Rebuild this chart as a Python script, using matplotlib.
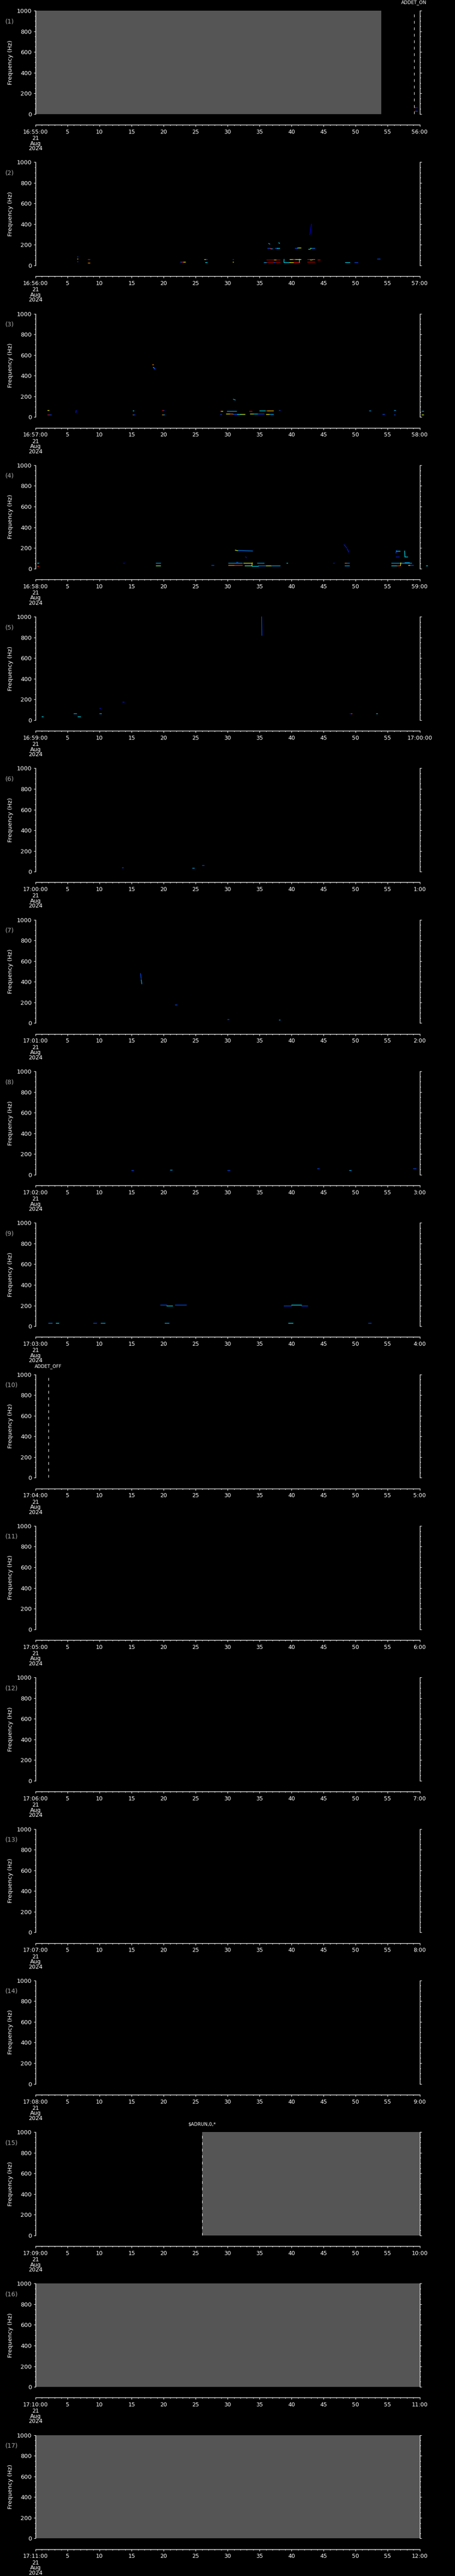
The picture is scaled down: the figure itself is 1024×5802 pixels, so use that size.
import matplotlib
matplotlib.use("Agg")
import matplotlib.pyplot as plt
from matplotlib.ticker import MultipleLocator, FixedLocator

W, H = 1024, 5802
DPI = 100
N_PANELS = 17
PANEL_H = H / N_PANELS

start_labels = ["16:55:00", "16:56:00", "16:57:00", "16:58:00", "16:59:00",
                "17:00:00", "17:01:00", "17:02:00", "17:03:00", "17:04:00",
                "17:05:00", "17:06:00", "17:07:00", "17:08:00", "17:09:00",
                "17:10:00", "17:11:00"]
end_labels = ["56:00", "57:00", "58:00", "59:00", "17:00:00", "1:00", "2:00",
              "3:00", "4:00", "5:00", "6:00", "7:00", "8:00", "9:00", "10:00",
              "11:00", "12:00"]
sec_labels = ["5", "10", "15", "20", "25", "30", "35", "40", "45", "50", "55"]
date_lines = ["21", "Aug", "2024"]

# no-data (grey) intervals, seconds into the minute
gray_panels = [1, 15, 16, 17]
gray_start = [0.0, 26.0, 0.0, 0.0]
gray_end = [54.0, 60.0, 60.0, 60.0]

# event markers
event_panels = [1, 10, 15]
event_times = [59.1, 2.0, 26.0]
event_labels = ["ADDET_ON", "ADDET_OFF", "$ADRUN,0,*"]

# spectrogram traces: (t_start, t_end, f_start, f_end, level 0..1)
p1_traces = [(59.2, 59.4, 62, 62, 0.9), (59.4, 59.6, 62, 62, 0.15),
             (59.2, 59.4, 29, 29, 0.9), (59.4, 59.6, 29, 29, 0.2)]

p2_traces = [(6.5, 6.6, 87, 87, 0.2), (6.5, 6.6, 66, 66, 0.7), (6.5, 6.6, 40, 40, 0.2),
             (8.2, 8.35, 60, 60, 0.9), (8.35, 8.5, 60, 60, 0.2), (8.2, 8.5, 27, 27, 0.75),
             (22.6, 22.9, 33, 33, 0.2), (22.9, 23.1, 33, 33, 0.9), (23.1, 23.4, 33, 33, 0.65),
             (26.4, 26.6, 60, 60, 0.65), (26.6, 26.8, 60, 60, 0.2), (26.5, 26.8, 31, 31, 0.35),
             (30.8, 30.9, 60, 60, 0.2), (30.8, 30.9, 36, 36, 0.65),
             (35.7, 36.1, 31, 31, 0.3), (36.1, 37.2, 31, 31, 0.95), (37.2, 37.4, 31, 31, 0.2),
             (37.4, 38.2, 31, 31, 0.95),
             (36.1, 37.3, 57, 57, 0.95), (37.3, 37.6, 54, 54, 0.7), (37.6, 38.2, 57, 57, 0.95),
             (36.2, 36.5, 169, 169, 0.2), (36.5, 36.7, 169, 169, 0.9), (36.7, 37.0, 163, 163, 0.3),
             (37.4, 37.7, 169, 169, 0.2), (37.7, 38.1, 169, 169, 0.35),
             (36.4, 36.6, 213, 207, 0.3), (38.0, 38.1, 220, 214, 0.35),
             (38.8, 38.82, 31, 60, 0.35), (38.8, 39.7, 31, 31, 0.35),
             (39.7, 40.3, 31, 31, 0.65), (40.3, 41.2, 31, 31, 0.9), (41.2, 41.22, 31, 60, 0.35),
             (39.7, 40.2, 60, 60, 0.65), (40.2, 40.6, 58, 58, 0.85), (40.6, 41.4, 60, 60, 0.65),
             (40.5, 40.9, 167, 167, 0.2), (40.9, 41.1, 170, 170, 0.35), (41.1, 41.4, 172, 172, 0.65),
             (42.5, 43.6, 33, 33, 0.95), (42.5, 42.9, 62, 62, 0.9), (42.9, 43.2, 57, 57, 0.7),
             (43.2, 43.6, 60, 60, 0.8),
             (42.6, 42.9, 160, 160, 0.35), (42.9, 43.1, 167, 167, 0.5), (43.1, 43.6, 167, 167, 0.25),
             (42.85, 43.1, 300, 400, 0.1),
             (44.1, 44.4, 57, 57, 0.9),
             (48.4, 49.1, 31, 31, 0.35), (49.8, 50.3, 31, 31, 0.2), (53.4, 53.8, 66, 66, 0.2)]

p3_traces = [(1.9, 2.05, 67, 67, 0.65), (1.9, 2.1, 24, 24, 0.9), (2.1, 2.4, 24, 24, 0.2),
             (6.3, 6.35, 42, 63, 0.15),
             (15.2, 15.35, 63, 63, 0.35), (15.2, 15.3, 24, 24, 0.75), (15.3, 15.45, 24, 24, 0.2),
             (18.25, 18.4, 507, 507, 0.75), (18.4, 18.6, 480, 470, 0.35), (18.55, 18.65, 470, 460, 0.15),
             (19.8, 19.95, 67, 67, 0.9), (19.95, 20.05, 67, 67, 0.2),
             (19.8, 19.9, 24, 24, 0.75), (19.9, 20.1, 24, 24, 0.3),
             (28.9, 29.0, 57, 57, 0.9), (29.0, 29.2, 57, 57, 0.6), (28.9, 29.0, 29, 29, 0.2),
             (29.9, 31.4, 57, 57, 0.3),
             (29.8, 30.3, 33, 33, 0.65), (30.3, 30.8, 33, 33, 0.8),
             (30.8, 31.5, 29, 29, 0.2), (31.5, 32.0, 29, 29, 0.35), (32.0, 32.7, 29, 29, 0.6),
             (30.9, 31.2, 172, 165, 0.3),
             (33.4, 33.8, 57, 57, 0.9),
             (33.5, 34.0, 31, 31, 0.6), (34.0, 34.7, 31, 31, 0.35), (34.7, 35.7, 31, 31, 0.2),
             (35.0, 35.9, 60, 60, 0.35),
             (36.1, 36.4, 63, 63, 0.75), (36.4, 37.1, 60, 60, 0.7),
             (36.0, 36.5, 29, 29, 0.65), (36.5, 37.1, 29, 29, 0.3),
             (38.0, 38.15, 66, 66, 0.2), (52.1, 52.3, 63, 63, 0.3), (54.2, 54.5, 29, 29, 0.2),
             (56.0, 56.2, 66, 66, 0.3), (56.0, 56.15, 24, 24, 0.2),
             (60.3, 60.6, 57, 57, 0.3), (60.3, 60.6, 24, 24, 0.6)]

p4_traces = [(0.3, 0.5, 55, 55, 0.35), (0.3, 0.5, 25, 25, 0.85),
             (13.7, 13.85, 55, 55, 0.1),
             (18.8, 19.5, 55, 55, 0.3), (18.8, 19.5, 30, 30, 0.5),
             (27.5, 27.8, 33, 33, 0.2),
             (30.1, 32.3, 55, 55, 0.3), (31.4, 31.6, 62, 62, 0.2),
             (30.1, 31.0, 31, 31, 0.75), (31.0, 32.3, 31, 31, 0.85),
             (31.2, 31.6, 178, 172, 0.6), (31.6, 33.9, 175, 170, 0.25),
             (32.8, 32.95, 113, 105, 0.15),
             (32.5, 33.8, 55, 55, 0.6),
             (32.7, 33.8, 30, 30, 0.45), (33.8, 33.85, 30, 55, 0.65), (33.8, 34.8, 26, 26, 0.35),
             (34.6, 35.7, 55, 55, 0.3),
             (34.8, 36.0, 30, 30, 0.25), (36.0, 36.8, 30, 30, 0.6), (36.8, 38.2, 30, 30, 0.3),
             (39.2, 39.35, 55, 55, 0.35), (46.5, 46.65, 55, 55, 0.15),
             (48.2, 48.6, 230, 200, 0.15), (48.7, 48.9, 190, 160, 0.15),
             (48.3, 48.6, 55, 55, 0.8), (48.6, 49.0, 55, 55, 0.25), (48.3, 49.0, 30, 30, 0.3),
             (55.6, 58.7, 55, 55, 0.3),
             (55.6, 56.4, 30, 30, 0.35), (56.4, 57.0, 30, 30, 0.85), (57.0, 57.05, 30, 55, 0.65),
             (56.3, 56.35, 150, 175, 0.2), (56.35, 56.9, 172, 172, 0.35),
             (56.3, 56.8, 113, 113, 0.15),
             (57.65, 57.7, 170, 113, 0.35), (57.65, 58.1, 113, 113, 0.35),
             (57.7, 58.4, 60, 60, 0.3),
             (58.2, 58.5, 33, 33, 0.65), (58.5, 59.0, 33, 33, 0.2),
             (61.0, 61.2, 30, 30, 0.35)]

p5_traces = [(1.0, 1.2, 33, 33, 0.35), (6.0, 6.4, 66, 66, 0.3), (6.6, 7.0, 35, 35, 0.35),
             (10.0, 10.25, 66, 66, 0.3), (10.0, 10.1, 115, 115, 0.15),
             (13.6, 13.8, 175, 175, 0.15), (35.3, 35.35, 1000, 820, 0.2),
             (49.1, 49.25, 66, 66, 0.1), (49.25, 49.4, 66, 66, 0.85),
             (53.2, 53.4, 66, 66, 0.35)]

p6_traces = [(13.5, 13.7, 40, 40, 0.2), (24.5, 24.8, 35, 35, 0.3), (26.0, 26.3, 60, 60, 0.2)]

p7_traces = [(16.4, 16.5, 480, 430, 0.2), (16.5, 16.6, 420, 380, 0.3), (21.8, 22.1, 180, 180, 0.2),
             (30.0, 30.2, 35, 35, 0.2), (38.0, 38.2, 30, 30, 0.3)]

p8_traces = [(15.0, 15.3, 40, 40, 0.2), (21.0, 21.3, 45, 45, 0.3), (30.0, 30.3, 40, 40, 0.2),
             (44.0, 44.3, 60, 60, 0.2), (49.0, 49.3, 40, 40, 0.3), (59.0, 59.4, 60, 60, 0.2)]

p9_traces = [(2.0, 2.6, 30, 30, 0.25), (3.2, 3.6, 30, 30, 0.35), (9.0, 9.5, 30, 30, 0.2),
             (10.2, 10.8, 30, 30, 0.3),
             (19.5, 20.5, 205, 205, 0.2), (20.5, 21.4, 200, 200, 0.35), (21.8, 23.5, 205, 205, 0.2),
             (38.8, 40.0, 200, 200, 0.2), (40.0, 41.5, 205, 205, 0.35), (41.5, 42.5, 200, 200, 0.2),
             (20.2, 20.8, 30, 30, 0.3), (39.5, 40.2, 30, 30, 0.35), (52.0, 52.4, 30, 30, 0.2)]

traces = {1: p1_traces, 2: p2_traces, 3: p3_traces, 4: p4_traces, 5: p5_traces,
          6: p6_traces, 7: p7_traces, 8: p8_traces, 9: p9_traces}

plt.rcParams['font.family'] = ['DejaVu Sans']
plt.rcParams['lines.scale_dashes'] = False

fig = plt.figure(figsize=(W / DPI, H / DPI), dpi=DPI, facecolor='black')
cmap = plt.get_cmap('jet')

X0, X1 = 80.0, 944.5
for i in range(N_PANELS):
    n = i + 1
    y0 = i * PANEL_H
    top = y0 + 24.0
    bot = y0 + 256.7
    ax = fig.add_axes([X0 / W, 1 - bot / H, (X1 - X0) / W, (bot - top) / H])
    ax.set_facecolor('black')
    ax.set_xlim(0, 60)
    ax.set_ylim(0, 1000)
    for s in ['top', 'bottom']:
        ax.spines[s].set_visible(False)
    for s in ['left', 'right']:
        ax.spines[s].set_color('white')
        ax.spines[s].set_linewidth(1.0)
    ax.set_xticks([])
    ax.yaxis.set_major_locator(MultipleLocator(200))
    ax.yaxis.set_minor_locator(MultipleLocator(50))
    ax.tick_params(axis='y', which='both', direction='out', colors='white',
                   left=True, right=True, labelleft=True, labelright=False)
    ax.tick_params(axis='y', which='major', length=3, width=0.8, labelsize=9.5, pad=3)
    ax.tick_params(axis='y', which='minor', length=1.7, width=0.8)

    # grey no-data blocks
    for p, s, e in zip(gray_panels, gray_start, gray_end):
        if p == n:
            ax.axvspan(s, e, color='#555555', lw=0, zorder=0)

    # spectrogram traces
    for t0, t1, f0, f1, lev in traces.get(n, []):
        ax.plot([t0, t1], [f0, f1], color=cmap(lev), lw=1.0,
                solid_capstyle='projecting', clip_on=False, zorder=3)

    # event markers
    for p, t, lab in zip(event_panels, event_times, event_labels):
        if p == n:
            ax.axvline(t, color='white', lw=0.8, linestyle=(0, (4.5, 6)), zorder=4)
            ax.annotate(lab, xy=(t, 1000), xytext=(0, 13), textcoords='offset points',
                        ha='center', va='center', color='white', fontsize=7.5,
                        annotation_clip=False, parse_math=False)

    # panel number and axis title
    fig.text(12 / W, 1 - (top + 24) / H, "(%d)" % n, color='#a8a8a8', fontsize=10,
             ha='left', va='center')
    fig.text(23.5 / W, 1 - (top + bot) / 2 / H, "Frequency (Hz)", color='white',
             fontsize=9.5, rotation=90, ha='center', va='center')

    # time axis below the panel
    ty = y0 + 281.0
    tax = fig.add_axes([X0 / W, 1 - ty / H, (X1 - X0) / W, 0.5 / H])
    tax.set_facecolor('none')
    for s in ['top', 'left', 'right']:
        tax.spines[s].set_visible(False)
    tax.spines['bottom'].set_color('white')
    tax.spines['bottom'].set_linewidth(1.0)
    tax.set_xlim(0, 60)
    tax.set_yticks([])
    tax.xaxis.set_major_locator(FixedLocator(list(range(0, 61, 5))))
    tax.xaxis.set_minor_locator(MultipleLocator(1))
    tax.set_xticklabels([start_labels[i]] + sec_labels + [end_labels[i]])
    tax.tick_params(axis='x', which='both', direction='out', colors='white')
    tax.tick_params(axis='x', which='major', length=3, width=0.8, labelsize=9, pad=4)
    tax.tick_params(axis='x', which='minor', length=1.6, width=0.8)

    for txt, dy in zip(date_lines, [315.0, 326.5, 338.0]):
        fig.text(X0 / W, 1 - (y0 + dy) / H, txt, color='white', fontsize=9,
                 ha='center', va='baseline')

fig.savefig("out.png", dpi=DPI, facecolor='black')
